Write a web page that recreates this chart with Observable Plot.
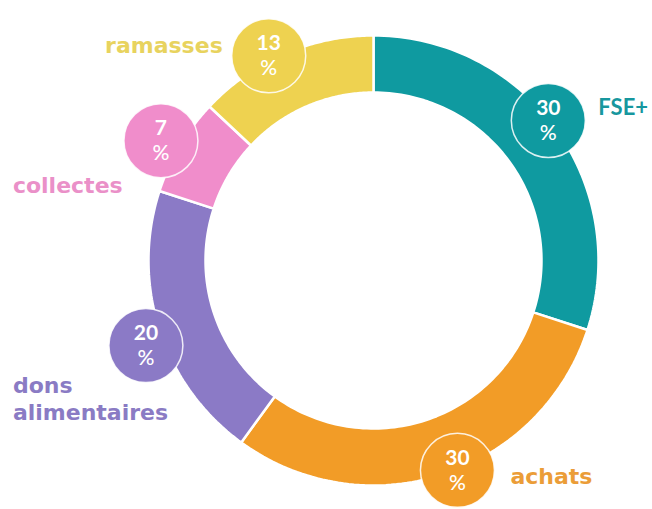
<!DOCTYPE html>
<html><head><meta charset="utf-8">
<script src="https://cdn.jsdelivr.net/npm/d3@7"></script>
<script src="https://cdn.jsdelivr.net/npm/@observablehq/plot@0.6"></script>
<style>body{margin:0;background:#fff;}#chart svg{display:block;}</style>
</head><body><div id="chart"></div>
<script>
// ---- data ----
const categories = ["FSE+", "achats", "dons alimentaires", "collectes", "ramasses"];
const values = [30, 30, 20, 7, 13];
const percentLabels = ["30", "30", "20", "7", "13"];
const labelTexts = ["FSE+", "achats", "dons\nalimentaires", "collectes", "ramasses"];

// ---- styles / layout ----
const segmentColors = ["#0f9aa0", "#f29c27", "#8b7ac6", "#f08dcb", "#eed250"];
const labelColors = ["#17979e", "#eb9d38", "#8a7bc4", "#ea90c8", "#e8d35e"];
const W = 652, H = 509, cx = 373, cy = 260, R = 225, r = 168;
// badge placement: shift (deg) from the segment mid-angle and distance from centre
const badgeShift = [-2.7, -3.8, -2.5, -1.2, -3.7];
const badgeDist = [224, 226, 243, 244, 230];
// label offsets from badge centre
const labelDx = [50, 53, -133, -148, -46];
const labelDy = [-12, 5, 52, 43, -10];
const labelAnchor = ["start", "start", "start", "start", "end"];

const deg = Math.PI / 180;
const pie = d3.pie().sort(null).value(d => d)(values);

const ring = [];
pie.forEach((p, i) => {
  const n = 80;
  for (let k = 0; k <= n; k++) {
    const a = p.startAngle + (p.endAngle - p.startAngle) * k / n;
    ring.push({cat: categories[i], x: cx + R * Math.sin(a), y: cy - R * Math.cos(a), c: segmentColors[i]});
  }
  for (let k = n; k >= 0; k--) {
    const a = p.startAngle + (p.endAngle - p.startAngle) * k / n;
    ring.push({cat: categories[i], x: cx + r * Math.sin(a), y: cy - r * Math.cos(a), c: segmentColors[i]});
  }
  const a0 = p.startAngle;
  ring.push({cat: categories[i], x: cx + R * Math.sin(a0), y: cy - R * Math.cos(a0), c: segmentColors[i]});
});

const badges = pie.map((p, i) => {
  const a = (p.startAngle + p.endAngle) / 2 + badgeShift[i] * deg;
  const bx = cx + badgeDist[i] * Math.sin(a), by = cy - badgeDist[i] * Math.cos(a);
  return {cat: categories[i], x: bx, y: by, c: segmentColors[i], pct: percentLabels[i],
          lx: bx + labelDx[i], ly: by + labelDy[i], label: labelTexts[i], lc: labelColors[i], anchor: labelAnchor[i]};
});

const chart = Plot.plot({
  width: W, height: H,
  margin: 0,
  x: {domain: [0, W], range: [0, W], axis: null},
  y: {domain: [0, H], range: [0, H], axis: null},
  color: {type: "identity"},
  style: {background: "#fff", overflow: "visible"},
  marks: [
    Plot.line(ring, {x: "x", y: "y", z: "cat", fill: "c", stroke: "#fff", strokeWidth: 2.5, strokeLinejoin: "miter"}),
    Plot.dot(badges, {x: "x", y: "y", r: 37, fill: "c", stroke: "#fff", strokeOpacity: 0.85, strokeWidth: 1.5}),
    Plot.text(badges, {x: "x", y: "y", text: "pct", dy: -12, fill: "#fff", fontSize: 21, fontWeight: "bold", fontFamily: "Lato"}),
    Plot.text(badges, {x: "x", y: "y", text: () => "%", dy: 13, fill: "#fff", fontSize: 21, fontFamily: "Lato", fontWeight: 500}),
    Plot.text(badges.filter(d => d.cat !== "FSE+" && d.anchor === "start"), {x: "lx", y: "ly", text: "label", fill: "lc", textAnchor: "start", fontSize: 22, fontWeight: "bold", fontFamily: "DejaVu Sans", lineHeight: 1.25}),
    Plot.text(badges.filter(d => d.anchor === "end"), {x: "lx", y: "ly", text: "label", fill: "lc", textAnchor: "end", fontSize: 22, fontWeight: "bold", fontFamily: "DejaVu Sans"}),
    Plot.text(badges.filter(d => d.cat === "FSE+"), {x: "lx", y: "ly", text: "label", fill: "lc", textAnchor: "start", fontSize: 22, fontWeight: "bold", fontFamily: "Lato"})
  ]
});
document.getElementById("chart").appendChild(chart);
</script>
</body></html>
